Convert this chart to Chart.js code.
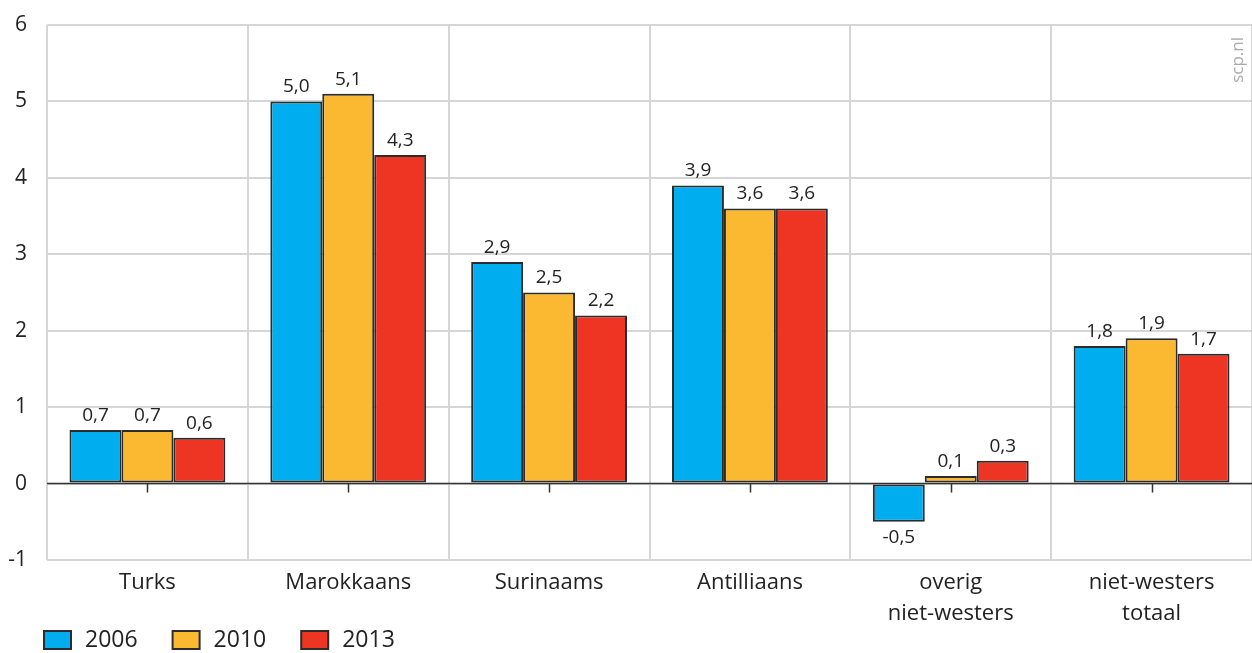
<!DOCTYPE html>
<html>
<head>
<meta charset="utf-8">
<script src="https://cdn.jsdelivr.net/npm/chart.js@4.4.0/dist/chart.umd.min.js"></script>
<style>
  html, body { margin: 0; padding: 0; background: #fff; }
  #wrap { width: 1252px; height: 653px; }
</style>
</head>
<body>
<div id="wrap"><canvas id="chart" width="1252" height="653"></canvas></div>
<script>
var categories = ['Turks', 'Marokkaans', 'Surinaams', 'Antilliaans', ['overig', 'niet-westers'], ['niet-westers', 'totaal']];
var years = ['2006', '2010', '2013'];
var values2006 = [0.7, 5.0, 2.9, 3.9, -0.5, 1.8];
var values2010 = [0.7, 5.1, 2.5, 3.6, 0.1, 1.9];
var values2013 = [0.6, 4.3, 2.2, 3.6, 0.3, 1.7];
var yTicks = [-1, 0, 1, 2, 3, 4, 5, 6];

var colors = ['#00aeef', '#fbb931', '#ee3524'];
var fontFamily = "'Open Sans', 'Noto Sans', sans-serif";

function fmt(v) {
    return v.toFixed(1).replace('.', ',');
}

// value labels above (or below) each bar
var valueLabels = {
    id: 'valueLabels',
    afterDatasetsDraw: function(chart) {
        var ctx = chart.ctx;
        ctx.save();
        ctx.font = '19px ' + fontFamily;
        ctx.fillStyle = '#222';
        ctx.textAlign = 'center';
        chart.data.datasets.forEach(function(ds, i) {
            chart.getDatasetMeta(i).data.forEach(function(bar, j) {
                var v = ds.data[j];
                if (v >= 0) {
                    ctx.textBaseline = 'bottom';
                    ctx.fillText(fmt(v), bar.x, bar.y - 5);
                } else {
                    ctx.textBaseline = 'top';
                    ctx.fillText(fmt(v), bar.x, bar.y + 6);
                }
            });
        });
        ctx.restore();
    }
};

// zero line, centre ticks, source mark and legend
var extras = {
    id: 'extras',
    afterDatasetsDraw: function(chart) {
        var ctx = chart.ctx;
        var area = chart.chartArea;
        var y0 = chart.scales.y.getPixelForValue(0);
        ctx.save();
        ctx.strokeStyle = '#333';
        ctx.lineWidth = 1.5;
        ctx.beginPath();
        ctx.moveTo(area.left, y0);
        ctx.lineTo(area.right, y0);
        categories.forEach(function(c, i) {
            var x = Math.round(chart.scales.x.getPixelForValue(i)) + 0.5;
            ctx.moveTo(x, y0);
            ctx.lineTo(x, y0 + 9);
        });
        ctx.stroke();
        ctx.restore();

        // legend along the bottom
        ctx.save();
        ctx.font = '23px ' + fontFamily;
        ctx.textBaseline = 'middle';
        ctx.textAlign = 'left';
        var lx = 44, ly = 640;
        chart.data.datasets.forEach(function(ds) {
            ctx.fillStyle = ds.backgroundColor;
            ctx.fillRect(lx, ly - 9, 27, 18);
            ctx.strokeStyle = '#2b2b2b';
            ctx.lineWidth = 2;
            ctx.strokeRect(lx, ly - 9, 27, 18);
            ctx.fillStyle = '#222';
            ctx.fillText(ds.label, lx + 41, ly);
            lx += 41 + ctx.measureText(ds.label).width + 35;
        });
        ctx.restore();

        ctx.save();
        ctx.translate(area.right - 14, area.top + 12);
        ctx.rotate(-Math.PI / 2);
        ctx.font = '17px ' + fontFamily;
        ctx.fillStyle = '#aaa';
        ctx.textAlign = 'right';
        ctx.textBaseline = 'middle';
        ctx.fillText('scp.nl', 0, 0);
        ctx.restore();
    }
};

function makeSet(label, data, color) {
    return {
        label: label,
        data: data,
        backgroundColor: color,
        borderColor: '#2b2b2b',
        borderWidth: 2,
        borderSkipped: false,
        categoryPercentage: 0.776,
        barPercentage: 1.0
    };
}

new Chart(document.getElementById('chart').getContext('2d'), {
    type: 'bar',
    data: {
        labels: categories,
        datasets: [
            makeSet(years[0], values2006, colors[0]),
            makeSet(years[1], values2010, colors[1]),
            makeSet(years[2], values2013, colors[2])
        ]
    },
    options: {
        responsive: false,
        animation: false,
        layout: { padding: { top: 25, right: 0, left: 0, bottom: 23 } },
        plugins: {
            legend: { display: false },
            tooltip: { enabled: false }
        },
        scales: {
            x: {
                grid: { color: '#d6d6d6', lineWidth: 2, drawTicks: false, offset: true },
                border: { display: false },
                ticks: {
                    color: '#222',
                    padding: 7,
                    maxRotation: 0,
                    font: { family: fontFamily, size: 22, lineHeight: 1.42 }
                },
                afterFit: function(s) { s.height = 70; }
            },
            y: {
                min: yTicks[0],
                max: yTicks[yTicks.length - 1],
                grid: { color: '#d6d6d6', lineWidth: 2, drawTicks: false },
                border: { display: false },
                ticks: {
                    stepSize: 1,
                    color: '#222',
                    padding: 20,
                    font: { family: fontFamily, size: 21 }
                },
                afterFit: function(s) {
                    s.width = 47;
                    s.paddingTop = 0;
                    s.paddingBottom = 0;
                }
            }
        }
    },
    plugins: [valueLabels, extras]
});
</script>
</body>
</html>
